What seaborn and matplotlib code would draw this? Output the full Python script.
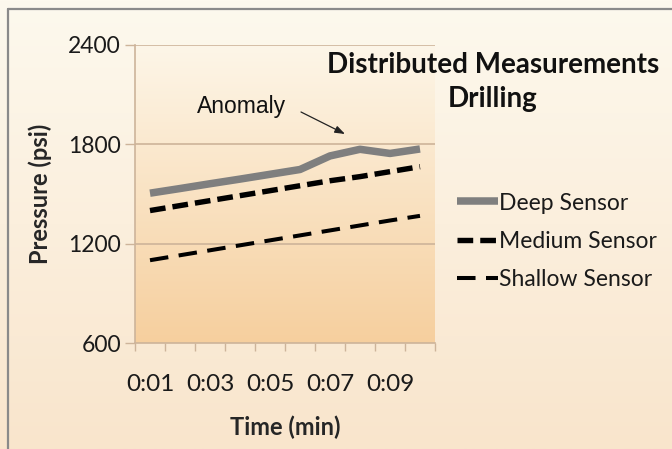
import numpy as np
import pandas as pd
import matplotlib
matplotlib.use("Agg")
import matplotlib.pyplot as plt
from matplotlib.colors import LinearSegmentedColormap
from matplotlib.lines import Line2D
import seaborn as sns

# Pressure readings per minute for three sensor depths
times = ["0:01", "0:02", "0:03", "0:04", "0:05", "0:06", "0:07", "0:08", "0:09", "0:10"]
deep = [1505, 1533, 1562, 1590, 1619, 1648, 1730, 1770, 1745, 1772]
medium = [1400, 1430, 1460, 1490, 1520, 1550, 1580, 1605, 1635, 1665]
shallow = [1100, 1130, 1160, 1190, 1220, 1250, 1280, 1310, 1340, 1368]
y_ticks = [600, 1200, 1800, 2400]

sns.set_theme(style="white")
plt.rcParams["font.family"] = ["Lato", "DejaVu Sans"]

W, H = 672, 449
fig = plt.figure(figsize=(W / 100, H / 100), dpi=100)

# Figure background gradient (cream at top, light peach at bottom)
bg = fig.add_axes([0, 0, 1, 1], zorder=-10)
bg_cmap = LinearSegmentedColormap.from_list("bg", ["#fdf9ee", "#f9e5cc"])
bg.imshow(np.linspace(0, 1, 256).reshape(-1, 1), aspect="auto", cmap=bg_cmap,
          extent=[0, 1, 0, 1], origin="upper")
bg.set_axis_off()

# Outer frame (top and left edges)
fig.add_artist(Line2D([8 / W, 1], [1 - 9 / H, 1 - 9 / H], color="#8a8a8a", lw=1.6))
fig.add_artist(Line2D([8 / W, 8 / W], [0, 1 - 9 / H], color="#8a8a8a", lw=1.6))

ax = fig.add_axes([135 / W, 1 - 343 / H, 300 / W, 298 / H])
ax.set_facecolor("none")

df = pd.DataFrame({"pos": np.arange(len(times)), "Deep Sensor": deep,
                   "Medium Sensor": medium, "Shallow Sensor": shallow})

# Plot area gradient
pa_cmap = LinearSegmentedColormap.from_list("pa", ["#fdf6e8", "#f6cf9e"])
ax.imshow(np.linspace(0, 1, 256).reshape(-1, 1), aspect="auto", cmap=pa_cmap,
          extent=[-0.5, len(times) - 0.5, 600, 2400], origin="upper", zorder=0)

grid_c = "#cdb49a"
for yv in y_ticks[1:]:
    ax.axhline(yv, color=grid_c, lw=1.2, zorder=1)

sns.lineplot(data=df, x="pos", y="Deep Sensor", ax=ax, color="#7f7f7f", lw=5.4,
             label="Deep Sensor", zorder=3)
sns.lineplot(data=df, x="pos", y="Medium Sensor", ax=ax, color="black", lw=3.9,
             dashes=(2.9, 1.3), label="Medium Sensor", zorder=3)
sns.lineplot(data=df, x="pos", y="Shallow Sensor", ax=ax, color="black", lw=2.9,
             dashes=(4.6, 2.6), label="Shallow Sensor", zorder=3)
for ln in ax.get_lines()[-3:]:
    ln.set_solid_capstyle("butt")
    ln.set_dash_capstyle("butt")

ax.set_xlim(-0.5, len(times) - 0.5)
ax.set_ylim(600, 2400)
ax.set_xticks(np.arange(-0.5, len(times), 1.0), minor=True)
ax.set_xticks(np.arange(0, len(times), 2))
ax.set_xticklabels(times[::2])
ax.set_yticks(y_ticks)
ax.tick_params(axis="x", which="major", length=0, labelsize=17.5, pad=22, colors="#1a1a1a")
ax.tick_params(axis="x", which="minor", length=6, width=1, color=grid_c, bottom=True)
ax.tick_params(axis="y", length=7, width=1, color=grid_c, labelsize=16.5, pad=3,
               colors="#1a1a1a", left=True)
for lab in ax.get_yticklabels() + ax.get_xticklabels():
    lab.set_color("#1a1a1a")
for s in ["top", "right"]:
    ax.spines[s].set_visible(False)
for s in ["left", "bottom"]:
    ax.spines[s].set_color(grid_c)
    ax.spines[s].set_linewidth(1.2)

ax.set_xlabel("Time (min)", fontsize=17, fontweight="bold", labelpad=15)
ax.set_ylabel("Pressure (psi)", fontsize=17, fontweight="bold", labelpad=12)

leg = ax.legend(loc="upper left", bbox_to_anchor=(1.073, 0.505), frameon=False,
                fontsize=16.5, handlelength=1.8, handletextpad=0.05, labelspacing=0.75,
                borderaxespad=0, borderpad=0)
for t in leg.get_texts():
    t.set_color("#1a1a1a")

fig.text(493 / W, 1 - 65 / H, "Distributed Measurements", ha="center", va="center",
         fontsize=20, fontweight="bold", color="#111111")
fig.text(493 / W, 1 - 99 / H, "Drilling", ha="center", va="center",
         fontsize=20, fontweight="bold", color="#111111")

fig.text(242 / W, 1 - 106 / H, "Anomaly", ha="center", va="center", fontsize=16.5,
         family=["Liberation Sans", "DejaVu Sans"], color="#111111")
ax.annotate("", xy=(345 / W, 1 - 134 / H), xytext=(301 / W, 1 - 112 / H),
            xycoords="figure fraction", textcoords="figure fraction",
            arrowprops=dict(arrowstyle="-|>,head_length=0.5,head_width=0.18",
                            color="#222222", lw=0.9, shrinkA=0, shrinkB=0))

fig.savefig("out.png", dpi=100)
